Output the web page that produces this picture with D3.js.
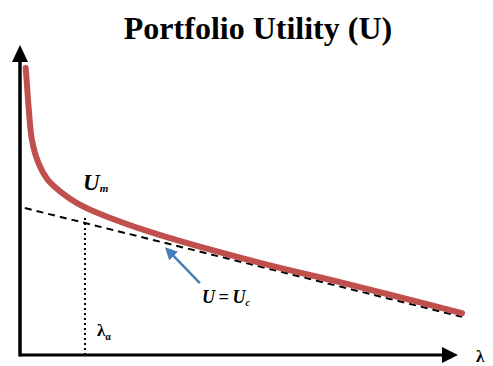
<!DOCTYPE html>
<html>
<head>
<meta charset="utf-8">
<script src="https://cdn.jsdelivr.net/npm/d3@7"></script>
<style>
  body { margin: 0; background: #fff; }
  svg { display: block; }
</style>
</head>
<body>
<svg id="chart" width="493" height="366"></svg>
<script>
// utility curve (lambda, U in arbitrary units)
const curveLambda = [0.13, 0.15, 0.20, 0.27, 0.41, 0.63, 0.95, 1.29, 1.76, 2.94, 5.43, 7.24, 10];
const curveUtility = [9.26, 8.87, 7.90, 6.94, 6.22, 5.65, 5.23, 4.90, 4.58, 3.97, 2.97, 2.35, 1.35];

// dashed tangent U = U_c
const tangentLambda = [0.11, 10];
const tangentUtility = [4.74, 1.23];

// lambda_alpha marker
const lambdaAlpha = 1.47;
const lambdaAlphaTop = 4.5;

// arrow pointing to the tangent
const arrowLambda = [4.07, 3.32];
const arrowUtility = [2.32, 3.42];

const titleText = "Portfolio Utility (U)";

const svg = d3.select("#chart");
const serif = "'Liberation Serif', 'Times New Roman', 'DejaVu Serif', serif";

const xScale = d3.scaleLinear().domain([0, 10]).range([20, 462]);
const yScale = d3.scaleLinear().domain([0, 10]).range([355, 45]);

const defs = svg.append("defs");
defs.append("marker")
    .attr("id", "blue-head")
    .attr("viewBox", "0 0 10 10")
    .attr("refX", 8)
    .attr("refY", 5)
    .attr("markerWidth", 5)
    .attr("markerHeight", 5)
    .attr("markerUnits", "strokeWidth")
    .attr("orient", "auto")
    .append("path")
    .attr("d", "M0,0 L10,5 L0,10 Z")
    .attr("fill", "#4a7ebb");

// title
svg.append("text")
    .attr("x", 258)
    .attr("y", 39)
    .attr("text-anchor", "middle")
    .style("font-family", serif)
    .attr("font-weight", "bold")
    .attr("font-size", 32)
    .text(titleText);

// axes
const x0 = xScale(0), y0 = yScale(0);
svg.append("line")
    .attr("x1", x0).attr("y1", y0 + 1.5)
    .attr("x2", x0).attr("y2", 60)
    .attr("stroke", "#000").attr("stroke-width", 3.5);
svg.append("path")
    .attr("d", `M${x0},45 L${x0 - 8},62 L${x0 + 8},62 Z`)
    .attr("fill", "#000");
svg.append("line")
    .attr("x1", x0).attr("y1", y0)
    .attr("x2", 444).attr("y2", y0)
    .attr("stroke", "#000").attr("stroke-width", 3);
svg.append("path")
    .attr("d", `M458,${y0} L442,${y0 - 8} L442,${y0 + 8} Z`)
    .attr("fill", "#000");

// dotted vertical at lambda_alpha
svg.append("line")
    .attr("x1", xScale(lambdaAlpha)).attr("y1", y0)
    .attr("x2", xScale(lambdaAlpha)).attr("y2", yScale(lambdaAlphaTop))
    .attr("stroke", "#000")
    .attr("stroke-width", 2)
    .attr("stroke-dasharray", "2,3");

// tangent dashed line
const tangent = tangentLambda.map((l, i) => [l, tangentUtility[i]]);
svg.append("path")
    .datum(tangent)
    .attr("d", d3.line().x(d => xScale(d[0])).y(d => yScale(d[1])))
    .attr("fill", "none")
    .attr("stroke", "#000")
    .attr("stroke-width", 2)
    .attr("stroke-dasharray", "7,5");

// utility curve
const curve = curveLambda.map((l, i) => [l, curveUtility[i]]);
svg.append("path")
    .datum(curve)
    .attr("d", d3.line().x(d => xScale(d[0])).y(d => yScale(d[1])).curve(d3.curveCatmullRom.alpha(0.5)))
    .attr("fill", "none")
    .attr("stroke", "#c0504d")
    .attr("stroke-width", 6)
    .attr("stroke-linecap", "round");

// blue arrow
svg.append("line")
    .attr("x1", xScale(arrowLambda[0])).attr("y1", yScale(arrowUtility[0]))
    .attr("x2", xScale(arrowLambda[1])).attr("y2", yScale(arrowUtility[1]))
    .attr("stroke", "#4a7ebb")
    .attr("stroke-width", 2.5)
    .attr("marker-end", "url(#blue-head)");

// labels
const um = svg.append("text")
    .attr("x", 83).attr("y", 190)
    .style("font-family", serif)
    .attr("font-weight", "bold")
    .attr("font-style", "italic")
    .attr("font-size", 23);
um.append("tspan").text("U");
um.append("tspan").attr("font-size", 11).attr("dy", 2).text("m");

const uc = svg.append("text")
    .attr("x", 202).attr("y", 303)
    .style("font-family", serif)
    .attr("font-weight", "bold")
    .attr("font-style", "italic")
    .attr("font-size", 18);
uc.append("tspan").text("U\u2009=\u2009U");
uc.append("tspan").attr("font-size", 10).attr("dy", 3).text("c");

const la = svg.append("text")
    .attr("x", 97).attr("y", 336)
    .style("font-family", serif)
    .attr("font-weight", "bold")
    .attr("font-size", 17);
la.append("tspan").text("\u03bb");
la.append("tspan").attr("font-size", 10).attr("dy", 4).text("\u03b1");

svg.append("text")
    .attr("x", 476).attr("y", 362)
    .style("font-family", serif)
    .attr("font-weight", "bold")
    .attr("font-size", 17)
    .text("\u03bb");
</script>
</body>
</html>
